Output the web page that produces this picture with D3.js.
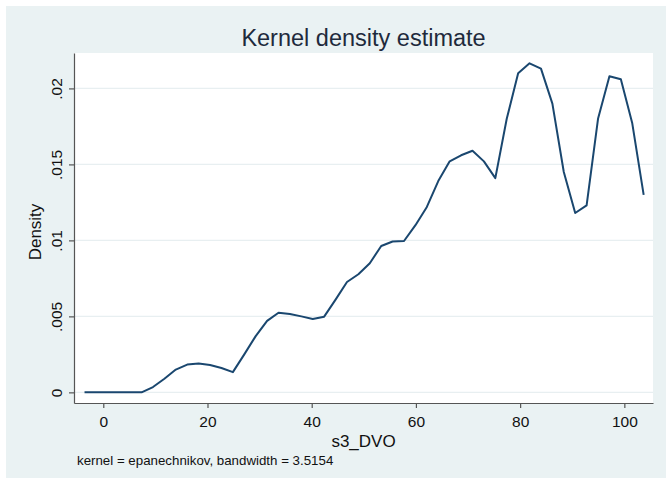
<!DOCTYPE html>
<html>
<head>
<meta charset="utf-8">
<script src="https://cdn.jsdelivr.net/npm/d3@7"></script>
<style>
  body { margin: 0; background: #ffffff; }
  svg text { font-family: "Liberation Sans", Arial, sans-serif; }
  .tick-label { font-size: 15.5px; fill: #111; }
  .label { font-size: 17px; fill: #111; }
  .title { font-size: 23.5px; fill: #1e2a3c; }
  .note { font-size: 13.3px; fill: #111; }
</style>
</head>
<body>
<svg width="666" height="484"></svg>
<script>
// **** data ****
var gridX = [-3.6, -1.41, 0.78, 2.97, 5.16, 7.35, 9.54, 11.73, 13.92, 16.11,
             18.3, 20.49, 22.68, 24.87, 27.06, 29.25, 31.44, 33.63, 35.82, 38.01,
             40.2, 42.39, 44.58, 46.77, 48.96, 51.15, 53.34, 55.53, 57.72, 59.91,
             62.1, 64.29, 66.48, 68.67, 70.86, 73.05, 75.24, 77.43, 79.62, 81.81,
             84.0, 86.19, 88.38, 90.57, 92.76, 94.95, 97.14, 99.33, 101.52, 103.71];
var density = [0, 0, 0, 0, 0, 0, 0.00035, 0.0009, 0.0015, 0.00183,
               0.0019, 0.0018, 0.0016, 0.00133, 0.0025, 0.0037, 0.0047, 0.00524, 0.00516, 0.005,
               0.00483, 0.00498, 0.0061, 0.00726, 0.00777, 0.0085, 0.00963, 0.00993, 0.00996, 0.011,
               0.0122, 0.0139, 0.0152, 0.0156, 0.0159, 0.0152, 0.0141, 0.018, 0.021, 0.02165,
               0.0213, 0.019, 0.0145, 0.0118, 0.0123, 0.018, 0.0208, 0.0206, 0.0177, 0.013];
var xTicks = [0, 20, 40, 60, 80, 100];
var yTicks = [0, 0.005, 0.01, 0.015, 0.02];
var yTickLabels = ["0", ".005", ".01", ".015", ".02"];

var svg = d3.select('svg');

// **** scales ****
var plotL = 74, plotR = 653, plotT = 53, plotB = 403;
var xScale = d3.scaleLinear().domain([-5.62, 105.5]).range([plotL, plotR]);
var yScale = d3.scaleLinear().domain([-0.0007, 0.02233]).range([plotB, plotT]);

// background + plot region
svg.append('rect').attr('x', 6).attr('y', 6).attr('width', 660).attr('height', 472)
    .style('fill', '#eaf2f3');
svg.append('rect').attr('x', plotL).attr('y', plotT)
    .attr('width', plotR - plotL).attr('height', plotB - plotT)
    .style('fill', '#ffffff');

// gridlines
svg.append('g').selectAll('line').data(yTicks).enter().append('line')
    .attr('x1', plotL).attr('x2', plotR)
    .attr('y1', function (d) { return yScale(d); })
    .attr('y2', function (d) { return yScale(d); })
    .style('stroke', '#e8eff1').style('stroke-width', 1.3);

// density curve
var line = d3.line()
    .x(function (d, i) { return xScale(gridX[i]); })
    .y(function (d) { return yScale(d); });
svg.append('path').datum(density)
    .attr('d', line)
    .style('fill', 'none').style('stroke', '#1a476f').style('stroke-width', 2)
    .style('stroke-linejoin', 'round');

// axes
var xAxis = svg.append('g').attr('transform', 'translate(0,' + plotB + ')')
    .call(d3.axisBottom(xScale).tickValues(xTicks).tickSize(5).tickPadding(8).tickSizeOuter(0));
xAxis.selectAll('text').attr('class', 'tick-label').attr('font-size', null).attr('font-family', null);

var yAxis = svg.append('g').attr('transform', 'translate(' + plotL + ',0)')
    .call(d3.axisLeft(yScale).tickValues(yTicks).tickSize(5).tickSizeOuter(0)
        .tickFormat(function (d, i) { return yTickLabels[i]; }));
yAxis.selectAll('text').attr('class', 'tick-label').attr('font-size', null).attr('font-family', null)
    .attr('x', null).attr('dy', null)
    .attr('text-anchor', 'middle')
    .attr('transform', 'translate(-12,0) rotate(-90)');

svg.selectAll('.domain, .tick line').style('stroke', '#555').style('stroke-width', 1.2);

// labels
svg.append('text').attr('class', 'title')
    .attr('text-anchor', 'middle')
    .attr('transform', 'translate(' + ((plotL + plotR) / 2) + ',46)')
    .text('Kernel density estimate');

svg.append('text').attr('class', 'label')
    .attr('text-anchor', 'middle')
    .attr('transform', 'translate(' + ((plotL + plotR) / 2) + ',447)')
    .text('s3_DVO');

svg.append('text').attr('class', 'label')
    .attr('text-anchor', 'middle')
    .attr('transform', 'translate(41,' + ((plotT + plotB) / 2 + 4) + ') rotate(-90)')
    .text('Density');

svg.append('text').attr('class', 'note')
    .attr('transform', 'translate(77,465)')
    .text('kernel = epanechnikov, bandwidth = 3.5154');
</script>
</body>
</html>
